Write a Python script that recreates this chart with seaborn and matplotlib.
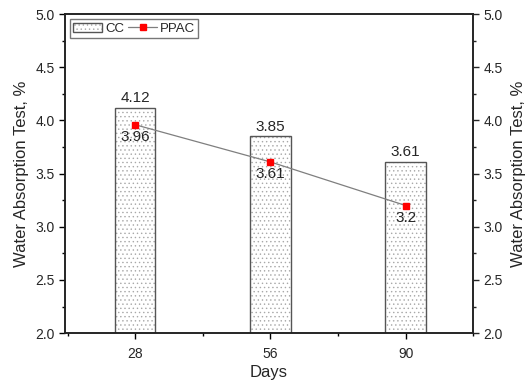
import matplotlib
matplotlib.use("Agg")
import matplotlib.pyplot as plt
import seaborn as sns
import pandas as pd
from matplotlib.patches import Patch, Rectangle
from matplotlib.lines import Line2D
from matplotlib.ticker import MultipleLocator

days = ["28", "56", "90"]
cc = [4.12, 3.85, 3.61]
ppac = [3.96, 3.61, 3.2]
y_ticks = [2.0, 2.5, 3.0, 3.5, 4.0, 4.5, 5.0]

DOT = "#a8a8a8"
EDGE = "#555555"

sns.set_theme(style="ticks")
plt.rcParams["font.family"] = ["Liberation Sans", "DejaVu Sans"]
plt.rcParams["hatch.linewidth"] = 0.5

fig = plt.figure(figsize=(5.27, 3.82), dpi=100)
ax = fig.add_axes([0.123, 0.128, 0.775, 0.835])

df = pd.DataFrame({"Days": days, "CC": cc})
# hatch takes the edge colour, so draw the dotted fill light and outline it separately
sns.barplot(data=df, x="Days", y="CC", ax=ax, width=0.3, color="white",
            edgecolor=DOT, linewidth=0, hatch="....")
for p in list(ax.patches):
    ax.add_patch(Rectangle(p.get_xy(), p.get_width(), p.get_height(),
                           fill=False, edgecolor=EDGE, linewidth=1.0, zorder=2.5))

x_pos = list(range(len(days)))
ax.plot(x_pos, ppac, color="#7f7f7f", lw=0.9, zorder=3)
ax.plot(x_pos, ppac, ls="none", marker="s", ms=5, color="red", zorder=4)

for i, v in enumerate(cc):
    ax.text(i, v + 0.025, f"{v:g}", ha="center", va="bottom", fontsize=11)
for i, v in enumerate(ppac):
    ax.text(i, v - 0.05, f"{v:g}", ha="center", va="top", fontsize=11)

ax.set_xlim(-0.52, 2.5)
ax.set_ylim(2.0, 5.0)
ax.set_yticks(y_ticks)
ax.set_yticklabels([f"{t:.1f}" for t in y_ticks])
ax.yaxis.set_minor_locator(MultipleLocator(0.25))
ax.xaxis.set_minor_locator(MultipleLocator(0.5))
ax.tick_params(axis="both", which="major", direction="out", length=4, width=1,
               labelsize=10, color="black")
ax.tick_params(axis="x", which="major", pad=6)
ax.tick_params(axis="both", which="minor", direction="out", length=2, width=1,
               color="black")
ax.set_xlabel("Days", fontsize=12, labelpad=3)
ax.set_ylabel("Water Absorption Test, %", fontsize=12, labelpad=4)
for s in ax.spines.values():
    s.set_linewidth(1.1)
    s.set_color("black")

ax2 = ax.twinx()
ax2.set_ylim(2.0, 5.0)
ax2.set_yticks(y_ticks)
ax2.set_yticklabels([f"{t:.1f}" for t in y_ticks])
ax2.yaxis.set_minor_locator(MultipleLocator(0.25))
ax2.tick_params(axis="y", which="major", direction="out", length=4, width=1,
                labelsize=10)
ax2.tick_params(axis="y", which="minor", direction="out", length=2, width=1)
ax2.set_ylabel("Water Absorption Test, %", fontsize=12, labelpad=6)
for s in ax2.spines.values():
    s.set_linewidth(1.1)

cc_handle = (Patch(facecolor="white", edgecolor=DOT, linewidth=0, hatch="...."),
             Patch(fill=False, edgecolor=EDGE, linewidth=1.0))
ppac_handle = Line2D([0], [0], color="#7f7f7f", lw=0.9, marker="s", ms=5,
                     markerfacecolor="red", markeredgecolor="red")
leg = ax.legend([cc_handle, ppac_handle], ["CC", "PPAC"], loc="upper left",
                ncol=2, fontsize=9.5, frameon=True, fancybox=False,
                handlelength=2.2, handletextpad=0.2, columnspacing=0.3,
                borderpad=0.25, bbox_to_anchor=(0.0, 1.0), borderaxespad=0.4)
leg.get_frame().set_edgecolor(EDGE)
leg.get_frame().set_linewidth(1.0)

fig.savefig("out.png", dpi=100)
